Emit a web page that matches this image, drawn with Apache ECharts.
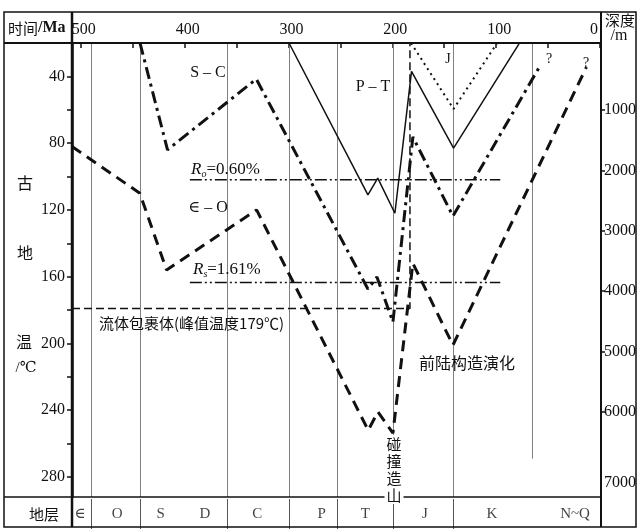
<!DOCTYPE html>
<html><head><meta charset="utf-8">
<script src="https://cdn.jsdelivr.net/npm/echarts@6/dist/echarts.min.js"></script>
<style>html,body{margin:0;padding:0;background:#fff}#c{width:640px;height:529px}</style>
</head><body><div id="c"></div>
<script>
// ---------------- data ----------------
const timeTicks = [0, 50, 100, 150, 200, 250, 300, 350, 400, 450, 500];
const timeLabels = [0, 100, 200, 300, 400, 500];
const tempTicks = [40, 60, 80, 100, 120, 140, 160, 180, 200, 220, 240, 260, 280];
const tempLabels = [40, 80, 120, 160, 200, 240, 280];
const depthTicks = [1000, 2000, 3000, 4000, 5000, 6000];
const depthLabels = [1000, 2000, 3000, 4000, 5000, 6000, 7000];

// burial / temperature paths : [age Ma, temperature °C]
const curveJ  = [[182, 20], [141, 59.5], [99, 20]];
const curvePT = [[299.5, 20], [223.5, 111], [214, 101], [197.5, 122], [181.5, 37], [141, 83], [78, 20.5]];
const curveSC = [[443, 20], [416.5, 84], [331, 41.6], [223.5, 167.4], [214.8, 160.2], [199.4, 187.2], [180.2, 76.3], [141.6, 123.7], [58, 34]];
const curveEO = [[508.5, 82], [443.2, 110], [417.4, 156], [330.7, 120], [223.2, 252], [213.9, 241], [199.4, 253.7], [180.2, 152], [141.6, 201], [13, 34.4]];
const ro060 = [[395, 102], [96, 102]];
const ro161 = [[395, 163.5], [96, 163.5]];
const fluidLine = [[508.5, 179], [183, 179], [183, 20]];

const periodBounds = [490, 443, 359, 299, 253, 199, 141];
const kpgBound = [[65, 20], [65, 269]];
const strataNames = ['∈', 'O', 'S', 'D', 'C', 'P', 'T', 'J', 'K', 'N~Q'];
const strataAges  = [501, 465, 423, 380.5, 330, 268, 226, 168.5, 104, 24];

// ---------------- chart ----------------
const serif = '"Liberation Serif","DejaVu Serif","Noto Sans CJK SC",serif';
const cjk = '"Noto Sans CJK SC",sans-serif';
const ink = '#111';
const chart = echarts.init(document.getElementById('c'), null, {renderer: 'canvas'});

const xMin = -1, xMax = 508.5;

function lineSeries(name, data, width, type) {
  return {
    name, type: 'line', data, xAxisIndex: 0, yAxisIndex: 0,
    symbol: 'none', silent: true, animation: false, z: 5,
    lineStyle: {color: ink, width, type}
  };
}

const option = {
  animation: false,
  backgroundColor: '#fff',
  grid: [
    {left: 72, right: 39, top: 43, bottom: 32},
    {left: 72, right: 39, top: 499, height: 30}
  ],
  xAxis: [
    {
      gridIndex: 0, type: 'value', position: 'top', inverse: true, min: xMin, max: xMax,
      axisLine: {show: true, onZero: false, lineStyle: {color: ink, width: 2}},
      axisTick: {show: true, inside: true, length: 5, customValues: timeTicks, lineStyle: {color: ink, width: 1.5}},
      axisLabel: {
        show: true, customValues: timeLabels, margin: 5, color: ink, fontFamily: serif, fontSize: 16,
        formatter: v => v === 0 ? '{z|0}' : '{a|' + v + '}',
        rich: {
          a: {fontFamily: serif, fontSize: 16, color: ink, padding: [0, 0, 0, 6]},
          z: {fontFamily: serif, fontSize: 16, color: ink, padding: [0, 12, 0, 0]}
        }
      },
      splitLine: {show: false}
    },
    {gridIndex: 1, type: 'value', inverse: true, min: xMin, max: xMax, show: false, axisLine: {onZero: false}}
  ],
  yAxis: [
    {
      gridIndex: 0, type: 'value', inverse: true, min: 20, max: 292, position: 'left',
      axisLine: {show: true, onZero: false, lineStyle: {color: ink, width: 2.5}},
      axisTick: {show: true, inside: false, length: 5, customValues: tempTicks, lineStyle: {color: ink, width: 1.5}},
      axisLabel: {show: true, customValues: tempLabels, margin: 7, color: ink, fontFamily: serif, fontSize: 16},
      splitLine: {show: false}
    },
    {
      gridIndex: 0, type: 'value', inverse: true, min: -111, max: 7413, position: 'right',
      axisLine: {show: true, onZero: false, lineStyle: {color: ink, width: 2}},
      axisTick: {show: true, inside: false, length: 4, customValues: depthTicks, lineStyle: {color: ink, width: 1.5}},
      axisLabel: {
        show: true, customValues: depthLabels, margin: 3, color: ink, fontFamily: serif, fontSize: 16,
        formatter: v => v === 7000 ? '{d|7000}' : '{n|' + v + '}',
        rich: {
          n: {fontFamily: serif, fontSize: 16, color: ink},
          d: {fontFamily: serif, fontSize: 16, color: ink, padding: [22, 0, 0, 0]}
        }
      },
      splitLine: {show: false}
    },
    {gridIndex: 1, type: 'value', min: 0, max: 1, show: false, axisLine: {onZero: false}}
  ],
  series: [
    // period boundary lines in plot
    {
      type: 'line', data: [], xAxisIndex: 0, yAxisIndex: 0, silent: true, z: 1,
      markLine: {
        silent: true, symbol: 'none', label: {show: false}, animation: false,
        lineStyle: {color: '#808080', width: 1, type: 'solid'},
        data: periodBounds.map(b => ({xAxis: b})).concat([[{coord: kpgBound[0]}, {coord: kpgBound[1]}]])
      }
    },
    // strata row separators + names
    {
      type: 'scatter', xAxisIndex: 1, yAxisIndex: 2, silent: true, symbolSize: 0,
      data: strataAges.map((a, i) => [a, 0.5, strataNames[i]]),
      label: {show: true, position: 'inside', formatter: p => p.data[2], color: ink, fontFamily: serif, fontSize: 15},
      markLine: {
        silent: true, symbol: 'none', label: {show: false}, animation: false,
        lineStyle: {color: '#555', width: 1, type: 'solid'},
        data: periodBounds.map(b => ({xAxis: b}))
      }
    },
    lineSeries('Ro0.60', ro060, 1.5, [12, 3, 2, 3, 2, 3]),
    lineSeries('Ro1.61', ro161, 1.5, [12, 3, 2, 3, 2, 3]),
    lineSeries('fluid', fluidLine, 1.5, [8, 4]),
    lineSeries('J', curveJ, 2, [2, 4]),
    lineSeries('P-T', curvePT, 1.5, 'solid'),
    lineSeries('S-C', curveSC, 3, [12, 5, 3, 5]),
    lineSeries('E-O', curveEO, 3, [11, 7])
  ],
  graphic: [
    // frame
    {type: 'rect', shape: {x: 4, y: 12, width: 632, height: 515}, style: {fill: 'none', stroke: ink, lineWidth: 1.5}, z: 10},
    {type: 'line', shape: {x1: 4, y1: 43, x2: 601, y2: 43}, style: {stroke: ink, lineWidth: 2}, z: 10},
    {type: 'line', shape: {x1: 4, y1: 497, x2: 601, y2: 497}, style: {stroke: ink, lineWidth: 1.5}, z: 10},
    {type: 'line', shape: {x1: 72, y1: 12, x2: 72, y2: 527}, style: {stroke: ink, lineWidth: 2.5}, z: 10},
    {type: 'line', shape: {x1: 601, y1: 12, x2: 601, y2: 527}, style: {stroke: ink, lineWidth: 2}, z: 10},
    // header texts
    {type: 'text', x: 8, y: 28, z: 11, style: {text: '{c|时间}{m|/Ma}', verticalAlign: 'middle',
      rich: {c: {fontFamily: cjk, fontSize: 15, fill: ink}, m: {fontFamily: serif, fontSize: 16, fontWeight: 'bold', fill: ink}}}},
    {type: 'text', x: 620, y: 20, z: 11, style: {text: '深度', font: '15px ' + cjk, fill: ink, align: 'center', verticalAlign: 'middle'}},
    {type: 'text', x: 619, y: 36, z: 11, style: {text: '/m', font: '16px ' + serif, fill: ink, align: 'center', verticalAlign: 'middle'}},
    // left axis title
    {type: 'text', x: 25, y: 183, z: 11, style: {text: '古', font: '16px ' + cjk, fill: ink, align: 'center', verticalAlign: 'middle'}},
    {type: 'text', x: 25, y: 253, z: 11, style: {text: '地', font: '16px ' + cjk, fill: ink, align: 'center', verticalAlign: 'middle'}},
    {type: 'text', x: 24, y: 342, z: 11, style: {text: '温', font: '16px ' + cjk, fill: ink, align: 'center', verticalAlign: 'middle'}},
    {type: 'text', x: 26, y: 368, z: 11, style: {text: '/℃', font: '15px ' + serif, fill: ink, align: 'center', verticalAlign: 'middle'}},
    {type: 'text', x: 44, y: 514, z: 11, style: {text: '地层', font: '15px ' + cjk, fill: ink, align: 'center', verticalAlign: 'middle'}},
    // curve labels
    {type: 'text', x: 208, y: 73, z: 11, style: {text: 'S – C', font: '16px ' + serif, fill: ink, align: 'center', verticalAlign: 'middle'}},
    {type: 'text', x: 373, y: 87, z: 11, style: {text: 'P – T', font: '16px ' + serif, fill: ink, align: 'center', verticalAlign: 'middle'}},
    {type: 'text', x: 208, y: 208, z: 11, style: {text: '∈ – O', font: '16px ' + serif, fill: ink, align: 'center', verticalAlign: 'middle'}},
    {type: 'text', x: 448, y: 59, z: 11, style: {text: 'J', font: '14px ' + serif, fill: ink, align: 'center', verticalAlign: 'middle'}},
    {type: 'text', x: 549, y: 59, z: 11, style: {text: '?', font: '14px ' + serif, fill: ink, align: 'center', verticalAlign: 'middle'}},
    {type: 'text', x: 586, y: 63, z: 11, style: {text: '?', font: '14px ' + serif, fill: ink, align: 'center', verticalAlign: 'middle'}},
    {type: 'text', x: 191, y: 170, z: 11, style: {text: '{i|R}{s|o}{n|=0.60%}', verticalAlign: 'middle',
      rich: {i: {fontFamily: serif, fontSize: 17, fontStyle: 'italic', fill: ink}, s: {fontFamily: serif, fontSize: 10, fontStyle: 'italic', fill: ink, padding: [8, 0, 0, 0]}, n: {fontFamily: serif, fontSize: 17, fill: ink}}}},
    {type: 'text', x: 193, y: 270, z: 11, style: {text: '{i|R}{s|s}{n|=1.61%}', verticalAlign: 'middle',
      rich: {i: {fontFamily: serif, fontSize: 17, fontStyle: 'italic', fill: ink}, s: {fontFamily: serif, fontSize: 10, fontStyle: 'italic', fill: ink, padding: [8, 0, 0, 0]}, n: {fontFamily: serif, fontSize: 17, fill: ink}}}},
    {type: 'text', x: 99, y: 323, z: 11, style: {text: '流体包裹体(峰值温度179℃)', font: '15px ' + cjk, fill: ink, verticalAlign: 'middle'}},
    {type: 'text', x: 467, y: 363, z: 11, style: {text: '前陆构造演化', font: '16px ' + cjk, fill: ink, align: 'center', verticalAlign: 'middle'}},
    {type: 'text', x: 394, y: 435, z: 12, style: {text: '碰\n撞\n造\n山', font: '15px ' + cjk, lineHeight: 17, fill: ink, align: 'center', verticalAlign: 'top', backgroundColor: '#fff', padding: [1, 2, 0, 2]}}
  ]
};
chart.setOption(option);
</script>
</body></html>
